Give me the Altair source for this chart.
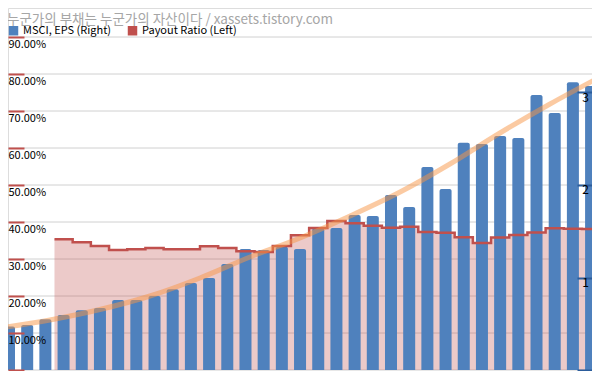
import altair as alt
import pandas as pd

TITLE = "누군가의 부채는 누군가의 자산이다 / xassets.tistory.com"
SERIES = ["MSCI, EPS (Right)", "Payout Ratio (Left)"]

# EPS per period (right axis)
eps = [0.47, 0.486, 0.55, 0.595, 0.645, 0.67, 0.757, 0.757, 0.80, 0.874, 0.94,
       0.995, 1.146, 1.308, 1.297, 1.333, 1.308, 1.532, 1.535, 1.676, 1.665,
       1.892, 1.762, 2.195, 1.957, 2.457, 2.443, 2.53, 2.508, 2.973, 2.778,
       3.112, 3.07]

# Payout ratio (left axis), starting at period index 3
payout_start = 3
payout = [0.3532, 0.3451, 0.3351, 0.3243, 0.3262, 0.3300, 0.3265, 0.3265,
          0.3345, 0.3300, 0.3207, 0.3189, 0.3351, 0.3640, 0.3838, 0.4027,
          0.3965, 0.3900, 0.3846, 0.3873, 0.3730, 0.3711, 0.3586, 0.3432,
          0.3581, 0.3649, 0.3716, 0.3830, 0.3819, 0.3811]

# EPS trend line
trend_x = [-0.49, 2.25, 5.0, 7.75, 10.5, 13.25, 16.0, 18.75, 21.5, 24.24,
           26.99, 29.74, 32.49]
trend_y = [0.454, 0.541, 0.654, 0.800, 0.995, 1.222, 1.427, 1.665, 1.924,
           2.227, 2.562, 2.876, 3.168]

left_ticks = [0.0, 0.1, 0.2, 0.3, 0.4, 0.5, 0.6, 0.7, 0.8, 0.9]
right_ticks = [0, 1, 2, 3, 4]

BLUE = "#4F81BD"
RED = "#C0504D"
FONT = "Noto Sans CJK KR"

bars_df = pd.DataFrame({"idx": list(range(len(eps))), "eps": eps,
                        "series": SERIES[0]})
n = len(eps)
pay_df = pd.DataFrame({
    "edge": [i - 0.5 for i in range(payout_start, n)] + [n - 0.5],
    "pay": payout + [payout[-1]],
})
trend_df = pd.DataFrame({"tx": trend_x, "ty": trend_y})
grid_df = pd.DataFrame({"v": left_ticks})

xs = alt.Scale(domain=[-0.055, 32.05], nice=False, zero=False)
yl = alt.Scale(domain=[-0.0027, 0.9784], nice=False, zero=False)
yr = alt.Scale(domain=[-0.0108, 3.9135], nice=False, zero=False)

left_axis = alt.Axis(orient="left", values=left_ticks, format=".2%",
                     grid=False, domain=False, tickColor=RED, tickWidth=2,
                     tickSize=16, offset=-16, labelAlign="left",
                     labelBaseline="top", labelPadding=0, labelOffset=1,
                     labelExpr="datum.value == 0 ? '' : datum.label",
                     labelFont=FONT, labelFontSize=11, labelColor="black",
                     labelOverlap=False, title=None, zindex=1)
right_axis = alt.Axis(orient="right", values=right_ticks, format="d",
                      grid=False, domain=False, tickColor="#2B5C9B",
                      tickWidth=2, tickSize=15, offset=-15,
                      labelAlign="center", labelPadding=-7,
                      labelBaseline="top", labelOffset=0, labelFont=FONT,
                      labelExpr="datum.value == 0 ? '' : datum.label",
                      labelFontSize=12, labelColor="black",
                      labelOverlap=False, title=None, zindex=1)

grid = alt.Chart(grid_df).mark_rule(color="#d0d0d0", strokeWidth=1).encode(
    y=alt.Y("v:Q", scale=yl, axis=left_axis)
)

area = alt.Chart(pay_df).mark_area(
    interpolate="step-after", color=RED, opacity=0.3, clip=True
).encode(
    x=alt.X("edge:Q", scale=xs, axis=None),
    y=alt.Y("pay:Q", scale=yl, axis=None),
)

bars = alt.Chart(bars_df).transform_calculate(
    x0="datum.idx - 0.33", x1="datum.idx + 0.33", base="0"
).mark_bar(cornerRadiusTopLeft=2, cornerRadiusTopRight=2, clip=True).encode(
    x=alt.X("x0:Q", scale=xs, axis=None),
    x2="x1:Q",
    y=alt.Y("eps:Q", scale=yr, axis=right_axis),
    y2="base:Q",
    color=alt.Color("series:N",
                    scale=alt.Scale(domain=SERIES, range=[BLUE, RED]),
                    legend=alt.Legend(orient="none", legendX=0, legendY=17,
                                      direction="horizontal", title=None,
                                      symbolType="square", symbolSize=90,
                                      symbolStrokeWidth=0, symbolOpacity=1,
                                      labelFont=FONT, labelFontSize=11,
                                      labelColor="black", labelOffset=4,
                                      columnPadding=15)),
)

line = alt.Chart(pay_df).mark_line(
    interpolate="step-after", color=RED, strokeWidth=2.5, clip=True
).encode(
    x=alt.X("edge:Q", scale=xs, axis=None),
    y=alt.Y("pay:Q", scale=yl, axis=None),
)

trend = alt.Chart(trend_df).mark_line(
    interpolate="monotone", color="#F79646", opacity=0.5, strokeWidth=5,
    clip=True
).encode(
    x=alt.X("tx:Q", scale=xs, axis=None),
    y=alt.Y("ty:Q", scale=yr, axis=None),
)

chart = alt.layer(grid, area, bars, line, trend).resolve_scale(
    y="independent"
).properties(
    width=584, height=363,
    title=alt.TitleParams(text=TITLE, anchor="start", fontSize=13.5,
                          font=FONT, fontWeight="normal", color="#a6a6a6",
                          offset=0, baseline="top", dy=18),
    autosize=alt.AutoSizeParams(type="none"),
    padding=0,
).configure_view(stroke=None).configure(background="white")

chart.save("out.html", embed_options={"renderer": "svg", "actions": False})
